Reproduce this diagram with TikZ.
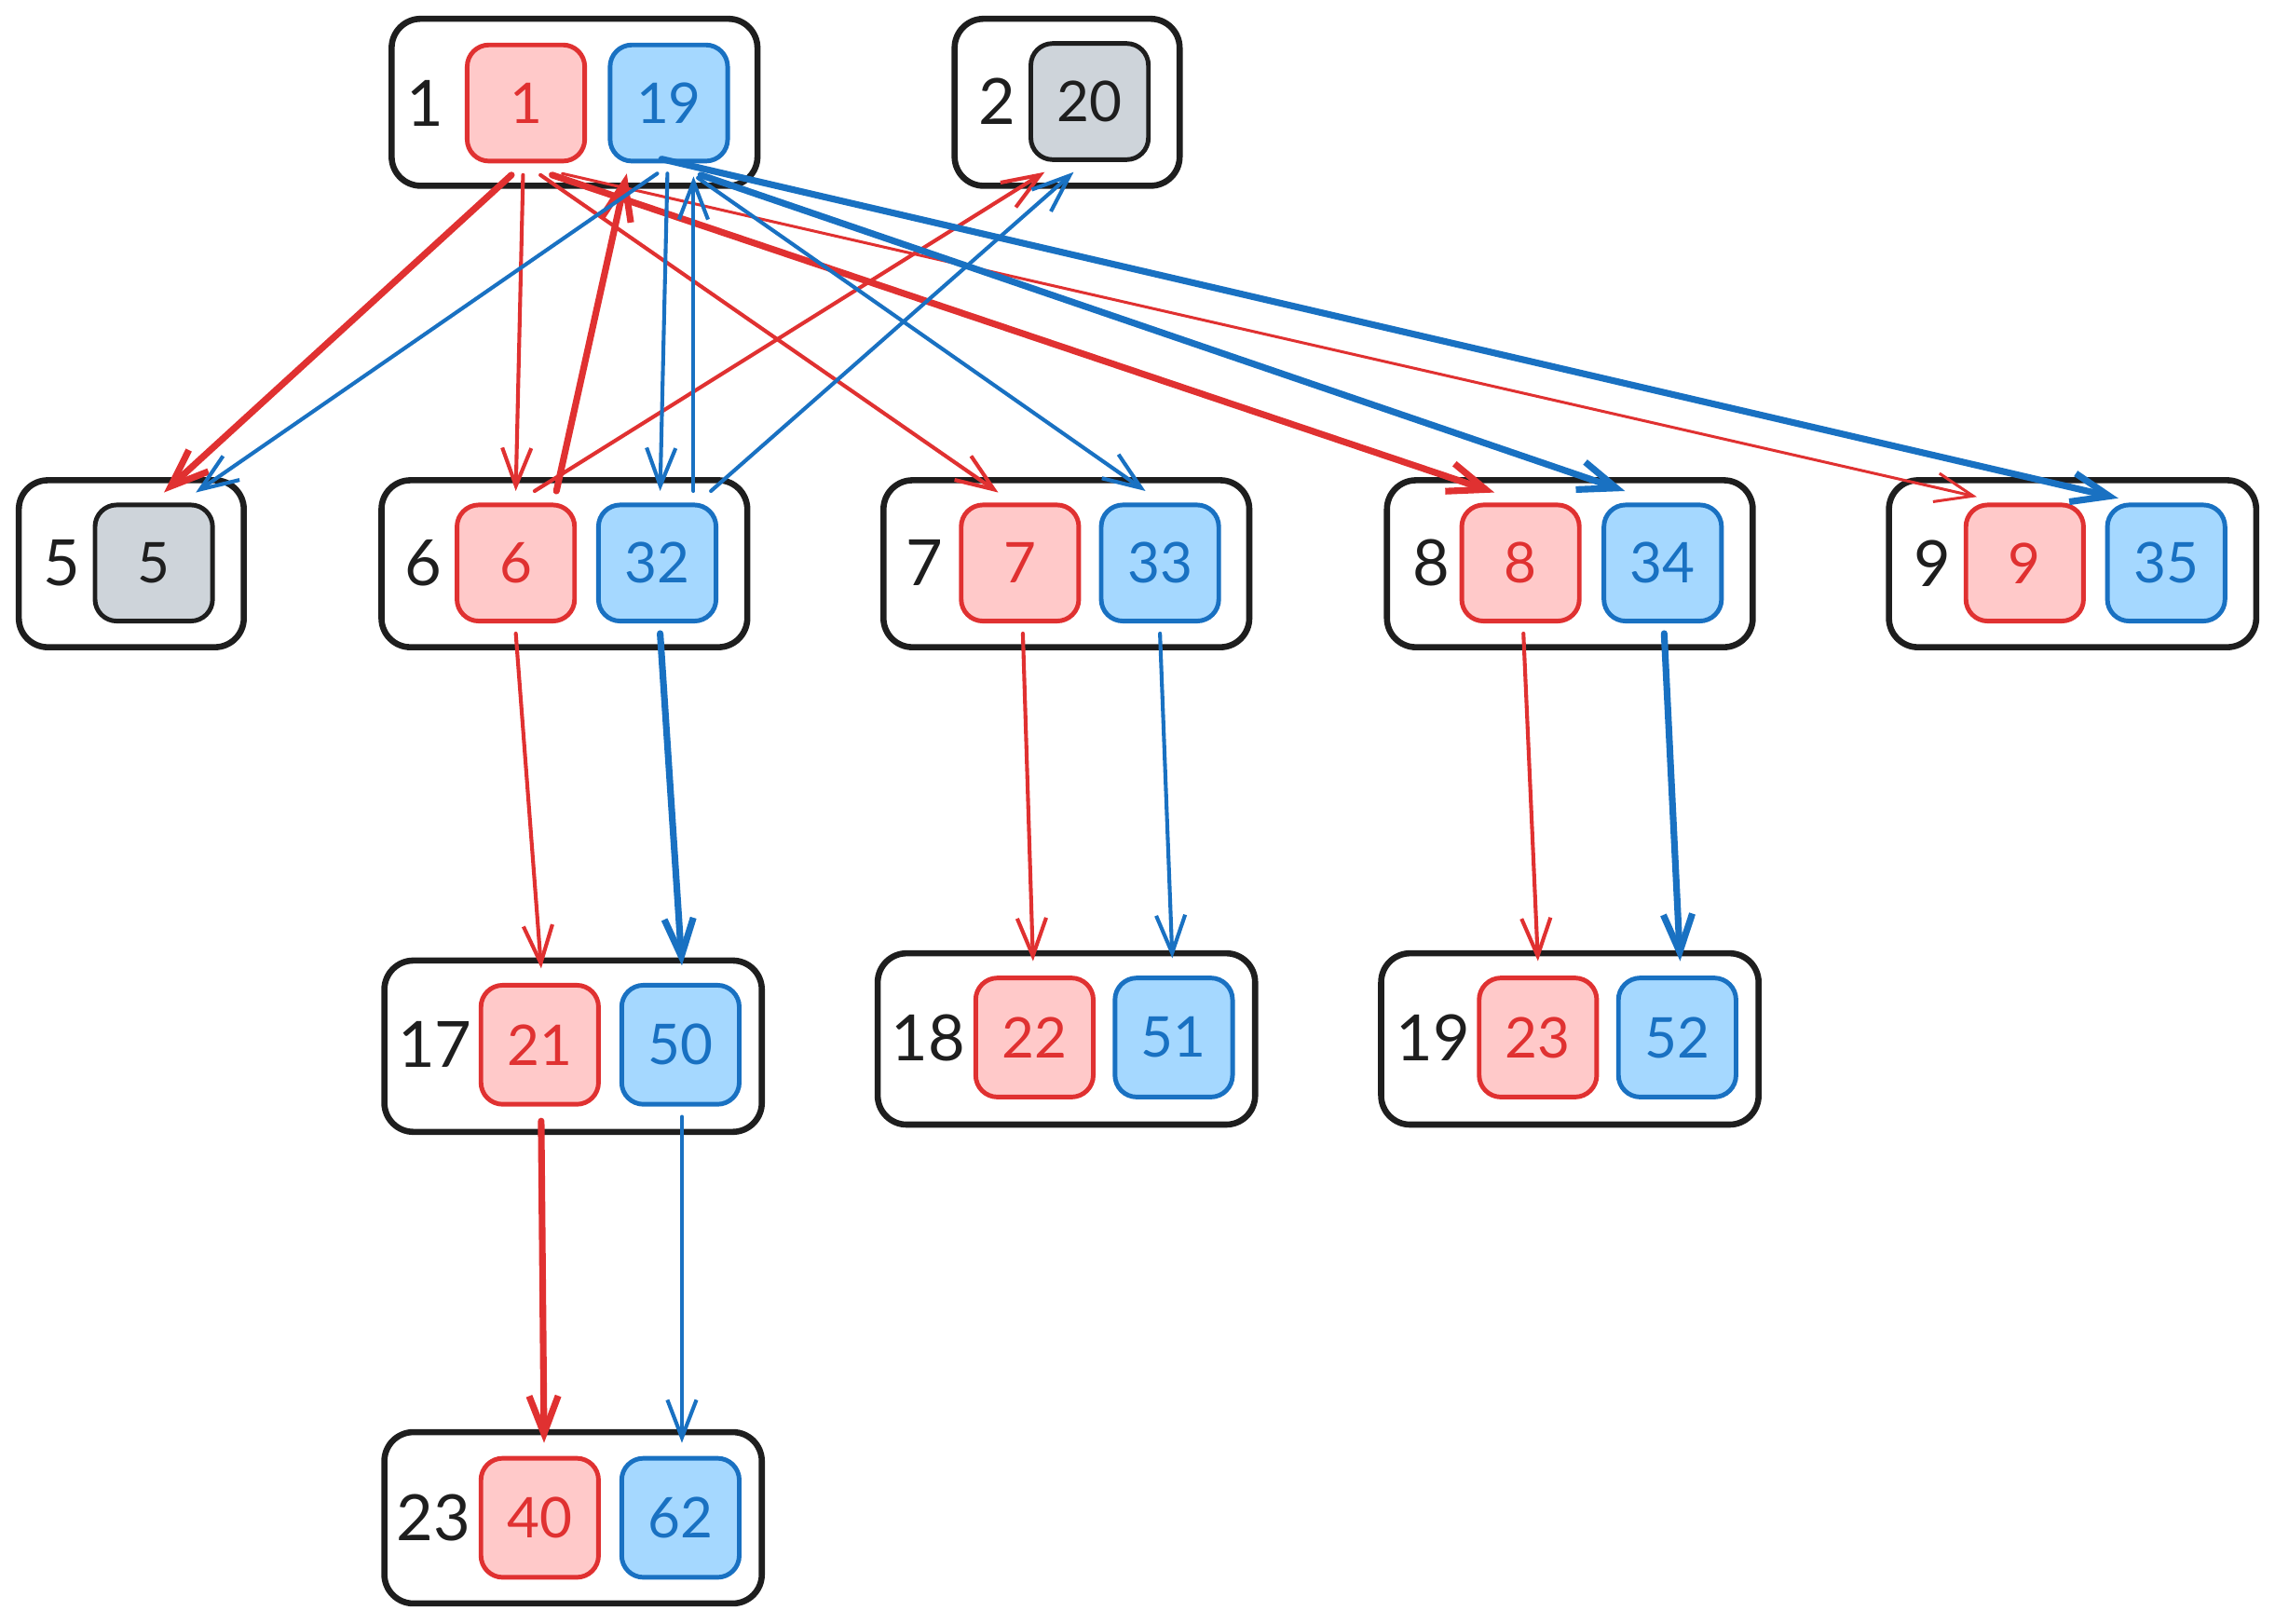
\documentclass[tikz,border=0pt]{standalone}
\usepackage{fontspec}
\setmainfont{Lato}
\usetikzlibrary{arrows.meta,positioning}

\definecolor{rojo}{HTML}{E03131}
\definecolor{rosa}{HTML}{FFC9C9}
\definecolor{azul}{HTML}{1971C2}
\definecolor{celeste}{HTML}{A5D8FF}
\definecolor{gris}{HTML}{CED4DA}
\definecolor{tinta}{HTML}{1E1E1E}

\begin{document}
\begin{tikzpicture}[x=0.01cm, y=-0.01cm,
    font=\fontsize{11}{13}\selectfont,
    caja/.style={draw=tinta, line width=1.2pt, rounded corners=0.2cm,
        minimum height=1.15cm, inner sep=0pt},
    celda/.style={line width=0.9pt, rounded corners=0.15cm,
        minimum width=0.81cm, minimum height=0.8cm, inner sep=0pt},
    roja/.style={celda, draw=rojo, fill=rosa, text=rojo},
    azulada/.style={celda, draw=azul, fill=celeste, text=azul},
    gris/.style={celda, draw=tinta, fill=gris, text=tinta},
    etiqueta/.style={inner sep=0pt, text=tinta, font=\fontsize{12.5}{14}\selectfont},
    flecha/.style={-{Straight Barb[length=0.26cm, width=0.2cm]},
        line width=0.75pt, line cap=round, line join=round},
    gruesa/.style={flecha, line width=1.3pt},
    fina/.style={flecha, line width=0.55pt}]

    \useasboundingbox (0,0) rectangle (1568,1119);

    % Fila superior
    \node[caja, minimum width=2.52cm] (n1) at (396,70.5) {};
    \node[roja] (r1) at (362.5,71) {1};
    \node[azulada] (b1) at (461,71) {19};
    \node[etiqueta, left=0.14cm of r1] (e1) {1};

    \node[caja, minimum width=1.55cm] (n2) at (735.5,70.5) {};
    \node[gris] (g2) at (751,70) {20};
    \node[etiqueta, left=0.08cm of g2] (e2) {2};

    % Segunda fila
    \node[caja, minimum width=1.55cm] (n5) at (90.5,388.5) {};
    \node[gris] (g5) at (106,388) {5};
    \node[etiqueta, left=0.08cm of g5] (e5) {5};

    \node[caja, minimum width=2.52cm] (n6) at (389,388.5) {};
    \node[roja] (r6) at (355.5,388) {6};
    \node[azulada] (b6) at (453,388) {32};
    \node[etiqueta, left=0.08cm of r6] (e6) {6};

    \node[caja, minimum width=2.52cm] (n7) at (735,388.5) {};
    \node[roja] (r7) at (703,388) {7};
    \node[azulada] (b7) at (799.5,388) {33};
    \node[etiqueta, left=0.1cm of r7] (e7) {7};

    \node[caja, minimum width=2.52cm] (n8) at (1082,388.5) {};
    \node[roja] (r8) at (1048,388) {8};
    \node[azulada] (b8) at (1146,388) {34};
    \node[etiqueta, left=0.06cm of r8] (e8) {8};

    \node[caja, minimum width=2.53cm] (n9) at (1428.5,388.5) {};
    \node[roja] (r9) at (1395.5,388) {9};
    \node[azulada] (b9) at (1493,388) {35};
    \node[etiqueta, left=0.08cm of r9] (e9) {9};

    % Tercera fila
    \node[caja, minimum width=2.6cm, minimum height=1.18cm] (n17) at (395,721) {};
    \node[roja, minimum height=0.82cm] (r17) at (372,720) {21};
    \node[azulada, minimum height=0.82cm] (b17) at (469,720) {50};
    \node[etiqueta, left=0.04cm of r17] (e17) {17};

    \node[caja, minimum width=2.6cm, minimum height=1.18cm] (n18) at (735,716) {};
    \node[roja, minimum height=0.82cm] (r18) at (713,715) {22};
    \node[azulada, minimum height=0.82cm] (b18) at (809,715) {51};
    \node[etiqueta, left=0.05cm of r18] (e18) {18};

    \node[caja, minimum width=2.6cm, minimum height=1.18cm] (n19) at (1082,716) {};
    \node[roja, minimum height=0.82cm] (r19) at (1060,715) {23};
    \node[azulada, minimum height=0.82cm] (b19) at (1156,715) {52};
    \node[etiqueta, left=0.04cm of r19] (e19) {19};

    % Cuarta fila
    \node[caja, minimum width=2.6cm, minimum height=1.18cm] (n23) at (395,1046) {};
    \node[roja, minimum height=0.82cm] (r23) at (372,1046) {40};
    \node[azulada, minimum height=0.82cm] (b23) at (469,1046) {62};
    \node[etiqueta, left=0.05cm of r23] (e23) {23};

    % Flechas rojas desde 1
    \draw[gruesa, rojo] ([shift={(-10,8)}]r1.south) -- ([shift={(7,-7)}]g5.north);
    \draw[flecha, rojo] ([shift={(-2,8)}]r1.south) -- ([shift={(0,-8)}]r6.north);
    \draw[flecha, rojo] ([shift={(10,8)}]r1.south) -- ([shift={(-15,-7)}]r7.north);
    \draw[gruesa, rojo] ([shift={(18,8)}]r1.south) -- ([shift={(-18,-7)}]r8.north);
    \draw[fina, rojo] ([shift={(25,7)}]r1.south) -- ([shift={(-33,-4)}]r9.north);

    % Flechas rojas desde 6 hacia arriba
    \draw[gruesa, rojo] ([shift={(28,-8)}]r6.north) -- ([shift={(-29,7)}]b1.south);
    \draw[flecha, rojo] ([shift={(13,-8)}]r6.north) -- ([shift={(-31,7)}]g2.south);

    % Flechas azules desde 19
    \draw[flecha, azul] ([shift={(-8,7)}]b1.south) -- ([shift={(29,-7)}]g5.north);
    \draw[flecha, azul] ([shift={(-1,7)}]b1.south) -- ([shift={(2,-8)}]b6.north);
    \draw[flecha, azul] ([shift={(20,10)}]b1.south) -- ([shift={(-10,-8)}]b7.north);
    \draw[gruesa, azul] ([shift={(22,8)}]b1.south) -- ([shift={(-26,-8)}]b8.north);
    \draw[gruesa, azul] ([shift={(-5,-3)}]b1.south) -- ([shift={(-33,-3)}]b9.north);

    % Flechas azules desde 32 hacia arriba
    \draw[flecha, azul] ([shift={(25,-8)}]b6.north) -- ([shift={(17,9)}]b1.south);
    \draw[flecha, azul] ([shift={(37,-8)}]b6.north) -- ([shift={(-11,7)}]g2.south);

    % Flechas verticales
    \draw[flecha, rojo] ([shift={(0,7)}]r6.south) -- ([shift={(1,-10)}]r17.north);
    \draw[flecha, rojo] ([shift={(2,7)}]r7.south) -- ([shift={(-1,-10)}]r18.north);
    \draw[flecha, rojo] ([shift={(2,7)}]r8.south) -- ([shift={(0,-10)}]r19.north);
    \draw[gruesa, rojo] ([shift={(1,10)}]r17.south) -- ([shift={(3,-9)}]r23.north);

    \draw[gruesa, azul] ([shift={(2,7)}]b6.south) -- ([shift={(1,-12)}]b17.north);
    \draw[flecha, azul] ([shift={(0,7)}]b7.south) -- ([shift={(-1,-12)}]b18.north);
    \draw[gruesa, azul] ([shift={(1,7)}]b8.south) -- ([shift={(2,-10)}]b19.north);
    \draw[flecha, azul] ([shift={(1,7)}]b17.south) -- ([shift={(1,-9)}]b23.north);
\end{tikzpicture}
\end{document}
